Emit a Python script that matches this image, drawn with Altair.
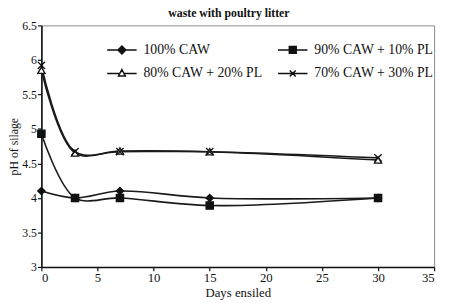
import altair as alt
import pandas as pd

days = [0, 3, 7, 15, 30]
series_names = ["100% CAW", "90% CAW + 10% PL", "80% CAW + 20% PL", "70% CAW + 30% PL"]
caw100 = [4.10, 4.00, 4.10, 4.00, 4.00]
caw90 = [4.93, 4.00, 4.00, 3.89, 4.00]
caw80 = [5.85, 4.65, 4.68, 4.67, 4.55]
caw70 = [5.92, 4.67, 4.67, 4.67, 4.58]
y_ticks = [3, 3.5, 4, 4.5, 5, 5.5, 6, 6.5]
x_ticks = [0, 5, 10, 15, 20, 25, 30, 35]

rows = []
for name, vals in zip(series_names, [caw100, caw90, caw80, caw70]):
    for d, v in zip(days, vals):
        rows.append({"series": name, "day": d, "ph": v})
df = pd.DataFrame(rows)

FONT = "Liberation Serif"

marker_shapes = ["diamond", "square", "triangle-up", "M-1,-1L1,1M-1,1L1,-1"]
marker_fills = ["#111111", "#111111", "#ffffff", "#111111"]
legend_shapes = [
    "M-3,0L3,0M0,-0.8L0.8,0L0,0.8L-0.8,0Z",
    "M-3,0L3,0M-0.7,-0.7L0.7,-0.7L0.7,0.7L-0.7,0.7Z",
    "M-3,0L-0.45,0M0.45,0L3,0M0,-0.8L0.7,0.5L-0.7,0.5Z",
    "M-3,0L3,0M-0.6,-0.6L0.6,0.6M-0.6,0.6L0.6,-0.6",
]

x = alt.X("day:Q", scale=alt.Scale(domain=[0, 35], nice=False),
          axis=alt.Axis(values=x_ticks, title="Days ensiled", grid=False))
y = alt.Y("ph:Q", scale=alt.Scale(domain=[3, 6.5], nice=False, zero=False),
          axis=alt.Axis(values=y_ticks, format="~g", title="pH of silage", grid=False,
                        titleX=-21))

base = alt.Chart(df)

lines = base.mark_line(interpolate="catmull-rom", color="#1a1a1a", strokeWidth=1.6).encode(
    x=x, y=y, detail="series:N"
)

points = base.mark_point(size=55, stroke="#111111", strokeWidth=1.3, opacity=1).encode(
    x=x, y=y,
    shape=alt.Shape("series:N", scale=alt.Scale(domain=series_names, range=marker_shapes), legend=None),
    fill=alt.Fill("series:N", scale=alt.Scale(domain=series_names, range=marker_fills), legend=None),
)

legend_layer = base.mark_point(opacity=0).encode(
    x=x, y=y,
    shape=alt.Shape("series:N", scale=alt.Scale(domain=series_names, range=legend_shapes),
                    legend=alt.Legend(title=None, orient="none", legendX=75, legendY=18,
                                      direction="horizontal",
                                      columns=2, columnPadding=12, rowPadding=10,
                                      symbolSize=100, symbolStrokeWidth=1.5,
                                      symbolStrokeColor="#111111", symbolOpacity=1,
                                      labelOffset=15, labelFont=FONT, labelFontSize=14,
                                      labelColor="#111111", labelLimit=300)),
    fill=alt.Fill("series:N", scale=alt.Scale(domain=series_names, range=marker_fills)),
    stroke=alt.Stroke("series:N", scale=alt.Scale(domain=series_names,
                                                  range=["#111111"] * 4)),
)

chart = alt.layer(lines, points, legend_layer).resolve_scale(
    shape="independent", fill="independent", stroke="independent"
).properties(
    width=400, height=246,
    title=alt.TitleParams("waste with poultry litter", font=FONT, fontSize=12,
                          fontWeight="bold", color="#111111", offset=0, dx=-9),
    autosize=alt.AutoSizeParams(type="none"),
    padding={"left": 34, "top": 15, "right": 8, "bottom": 34},
).configure_view(
    stroke="#8a8a8a", strokeWidth=1
).configure_axis(
    labelFont=FONT, labelFontSize=12, labelColor="#111111",
    titleFont=FONT, titleFontSize=12, titleFontWeight="normal", titleColor="#111111",
    domainColor="#111111", domainWidth=1.6, tickColor="#111111", tickSize=4,
    tickWidth=1.2, labelPadding=1
).configure_axisX(
    titlePadding=2, labelFontSize=13, titleFontSize=13
)

chart.save("out.html", embed_options={"renderer": "svg", "actions": False})
